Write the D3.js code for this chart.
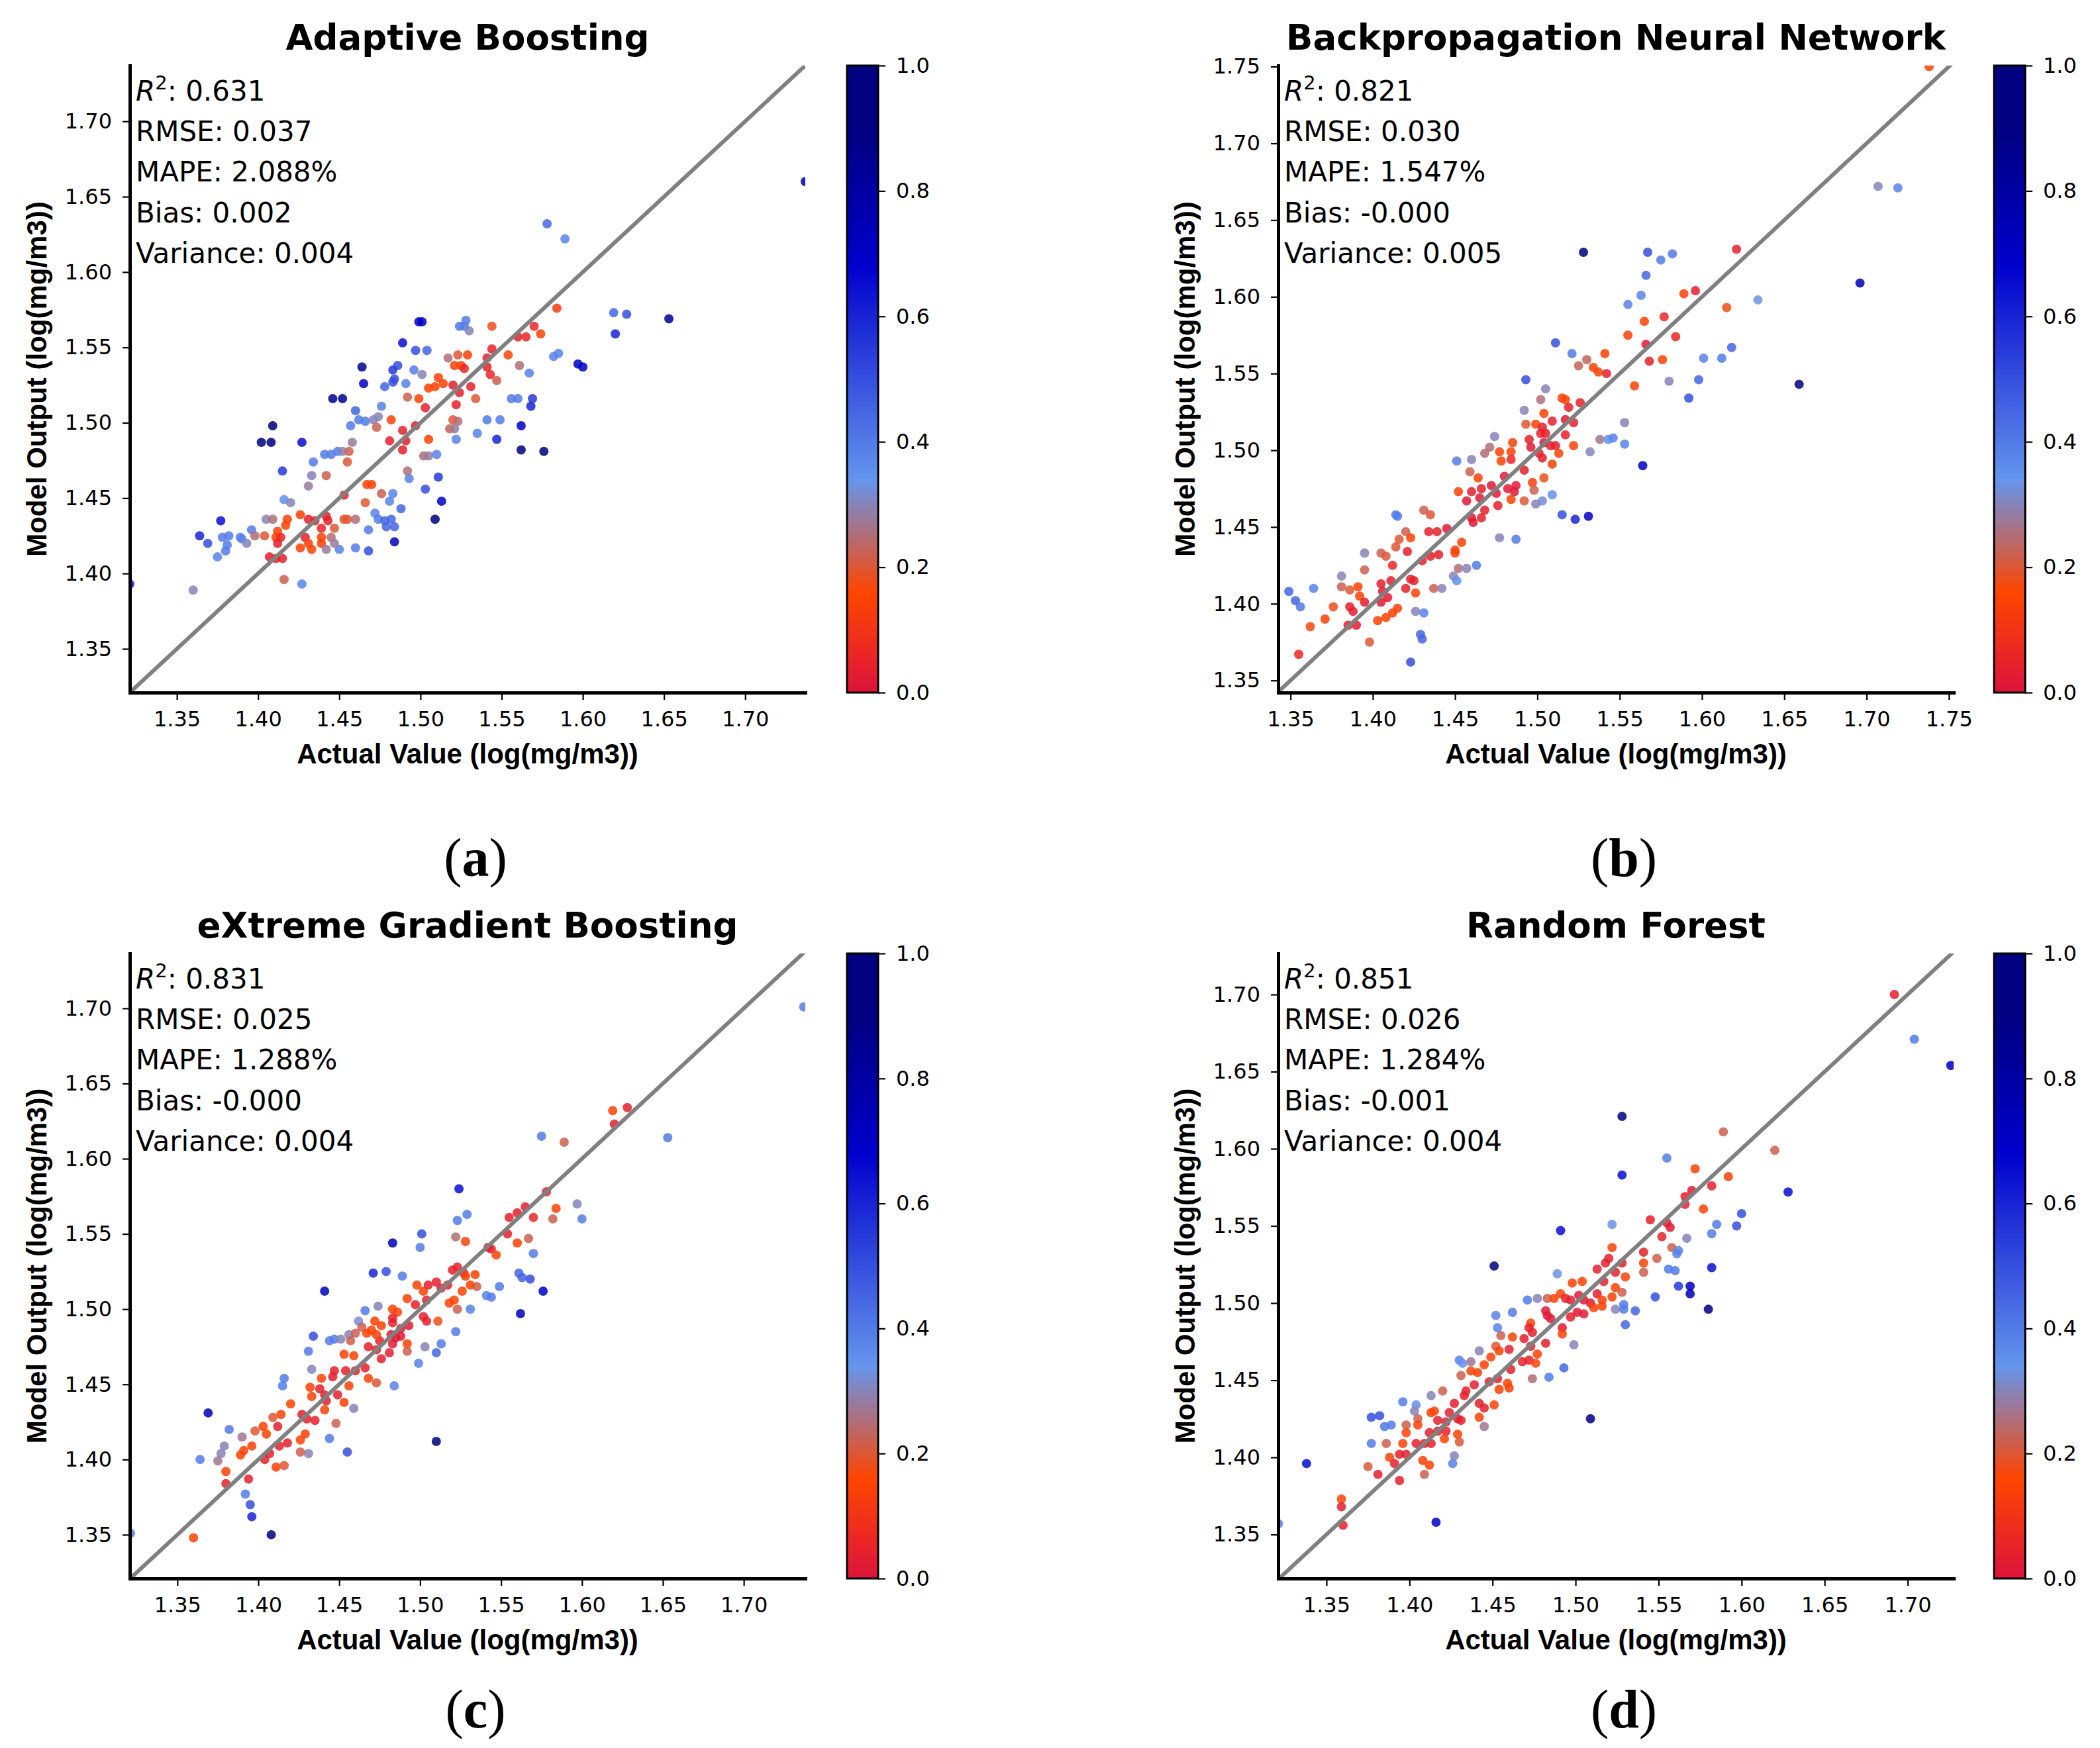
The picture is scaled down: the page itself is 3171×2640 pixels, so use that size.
<!DOCTYPE html>
<html><head><meta charset="utf-8">
<script src="https://cdn.jsdelivr.net/npm/d3@7"></script>
<style>body{margin:0;background:#fff}</style>
</head><body>
<svg id="chart" width="3171" height="2640" xmlns="http://www.w3.org/2000/svg"></svg>
<script>
// ---------- DATA ----------
// each point: [actual value, model output, colour value]
const adaPoints = [
[1.578,1.632,0.45],[1.589,1.622,0.38],[1.584,1.576,0.12],[1.619,1.573,0.45],[1.620,1.559,0.60],
[1.544,1.564,0.18],[1.570,1.564,0.06],[1.574,1.559,0.15],[1.560,1.557,0.04],[1.565,1.557,0.06],
[1.528,1.568,0.40],[1.524,1.564,0.40],[1.527,1.564,0.40],[1.530,1.561,0.30],[1.499,1.567,0.70],
[1.501,1.567,0.70],[1.489,1.553,0.65],[1.497,1.548,0.50],[1.504,1.548,0.45],[1.544,1.549,0.04],
[1.554,1.545,0.15],[1.517,1.543,0.25],[1.523,1.545,0.20],[1.529,1.545,0.15],[1.521,1.538,0.15],
[1.525,1.538,0.14],[1.527,1.536,0.06],[1.541,1.543,0.04],[1.541,1.537,0.04],[1.543,1.532,0.06],
[1.547,1.528,0.22],[1.561,1.538,0.25],[1.567,1.533,0.38],[1.582,1.544,0.38],[1.585,1.546,0.38],
[1.597,1.539,0.70],[1.600,1.537,0.70],[1.486,1.538,0.50],[1.483,1.535,0.55],[1.484,1.529,0.50],
[1.478,1.524,0.45],[1.483,1.527,0.50],[1.464,1.537,0.85],[1.465,1.526,0.70],[1.496,1.535,0.40],
[1.501,1.532,0.30],[1.491,1.526,0.38],[1.511,1.530,0.15],[1.514,1.526,0.15],[1.509,1.524,0.15],
[1.505,1.523,0.15],[1.520,1.525,0.04],[1.531,1.524,0.04],[1.524,1.520,0.04],[1.534,1.516,0.20],
[1.522,1.512,0.04],[1.499,1.516,0.15],[1.492,1.517,0.22],[1.503,1.510,0.04],[1.446,1.516,0.85],
[1.452,1.516,0.85],[1.460,1.508,0.45],[1.476,1.511,0.38],[1.462,1.502,0.40],[1.466,1.501,0.40],
[1.471,1.502,0.30],[1.474,1.504,0.30],[1.473,1.497,0.22],[1.457,1.498,0.40],[1.482,1.502,0.15],
[1.489,1.495,0.04],[1.497,1.498,0.04],[1.481,1.488,0.04],[1.491,1.488,0.04],[1.489,1.482,0.04],
[1.505,1.489,0.15],[1.520,1.502,0.20],[1.523,1.501,0.25],[1.518,1.496,0.22],[1.521,1.496,0.28],
[1.522,1.489,0.38],[1.541,1.502,0.40],[1.549,1.502,0.40],[1.535,1.493,0.38],[1.547,1.489,0.60],
[1.556,1.516,0.40],[1.560,1.516,0.40],[1.569,1.516,0.55],[1.568,1.511,0.60],[1.562,1.498,0.70],
[1.562,1.482,0.90],[1.576,1.481,0.90],[1.502,1.478,0.25],[1.505,1.478,0.28],[1.510,1.479,0.38],
[1.409,1.498,0.90],[1.402,1.487,0.90],[1.408,1.487,0.90],[1.427,1.487,0.65],[1.441,1.479,0.40],
[1.445,1.479,0.40],[1.449,1.481,0.40],[1.452,1.481,0.30],[1.456,1.481,0.22],[1.458,1.487,0.28],
[1.455,1.474,0.20],[1.434,1.474,0.40],[1.415,1.468,0.55],[1.433,1.465,0.30],[1.442,1.465,0.22],
[1.431,1.458,0.28],[1.467,1.459,0.15],[1.470,1.459,0.15],[1.492,1.468,0.25],[1.493,1.463,0.38],
[1.511,1.464,0.55],[1.503,1.456,0.50],[1.476,1.453,0.22],[1.483,1.453,0.38],[1.481,1.448,0.38],
[1.466,1.447,0.20],[1.488,1.443,0.45],[1.513,1.448,0.70],[1.453,1.452,0.04],[1.416,1.449,0.35],
[1.420,1.447,0.30],[1.472,1.440,0.38],[1.474,1.436,0.40],[1.478,1.435,0.45],[1.482,1.436,0.45],
[1.479,1.431,0.45],[1.484,1.431,0.45],[1.468,1.429,0.40],[1.509,1.436,0.90],[1.484,1.421,0.75],
[1.460,1.417,0.40],[1.468,1.415,0.50],[1.450,1.416,0.38],[1.426,1.439,0.15],[1.431,1.436,0.04],
[1.435,1.435,0.04],[1.442,1.438,0.04],[1.443,1.435,0.04],[1.439,1.430,0.06],[1.439,1.424,0.15],
[1.447,1.430,0.20],[1.445,1.424,0.25],[1.439,1.420,0.15],[1.447,1.420,0.28],[1.442,1.416,0.28],
[1.433,1.416,0.15],[1.426,1.417,0.15],[1.429,1.424,0.04],[1.431,1.420,0.15],[1.453,1.436,0.18],
[1.455,1.436,0.20],[1.460,1.436,0.25],[1.418,1.436,0.15],[1.417,1.432,0.15],[1.412,1.428,0.15],
[1.411,1.424,0.15],[1.414,1.424,0.06],[1.412,1.420,0.04],[1.407,1.411,0.04],[1.415,1.410,0.04],
[1.411,1.410,0.04],[1.404,1.425,0.20],[1.405,1.436,0.30],[1.409,1.436,0.25],[1.377,1.435,0.65],
[1.364,1.425,0.60],[1.369,1.420,0.50],[1.375,1.411,0.38],[1.380,1.415,0.40],[1.381,1.419,0.40],
[1.378,1.424,0.40],[1.382,1.425,0.40],[1.389,1.424,0.38],[1.390,1.423,0.38],[1.396,1.429,0.40],
[1.398,1.425,0.25],[1.393,1.420,0.30],[1.416,1.396,0.22],[1.427,1.393,0.38],[1.360,1.389,0.30],
[1.627,1.572,0.50],[1.653,1.569,0.85],[1.737,1.660,0.75],[1.321,1.393,0.60]
];
const bpnnPoints = [
[1.563,1.601,0.38],[1.555,1.595,0.38],[1.589,1.602,0.15],[1.596,1.604,0.04],[1.565,1.584,0.15],
[1.577,1.587,0.06],[1.555,1.575,0.15],[1.584,1.574,0.06],[1.566,1.569,0.02],[1.511,1.570,0.50],
[1.521,1.563,0.40],[1.541,1.563,0.15],[1.530,1.559,0.23],[1.525,1.555,0.23],[1.534,1.554,0.15],
[1.537,1.551,0.15],[1.542,1.550,0.04],[1.568,1.558,0.04],[1.576,1.559,0.15],[1.601,1.560,0.38],
[1.598,1.546,0.45],[1.580,1.545,0.30],[1.559,1.542,0.15],[1.592,1.534,0.50],[1.493,1.546,0.50],
[1.505,1.540,0.30],[1.502,1.533,0.25],[1.515,1.534,0.15],[1.517,1.533,0.15],[1.519,1.528,0.04],
[1.526,1.531,0.04],[1.492,1.526,0.30],[1.504,1.524,0.15],[1.509,1.519,0.04],[1.517,1.520,0.02],
[1.522,1.518,0.04],[1.493,1.517,0.20],[1.499,1.517,0.15],[1.503,1.515,0.04],[1.502,1.511,0.04],
[1.505,1.511,0.04],[1.517,1.510,0.04],[1.495,1.507,0.04],[1.504,1.505,0.02],[1.508,1.503,0.04],
[1.511,1.503,0.04],[1.522,1.503,0.15],[1.496,1.502,0.02],[1.513,1.498,0.15],[1.501,1.498,0.04],
[1.503,1.495,0.04],[1.509,1.491,0.15],[1.485,1.505,0.15],[1.474,1.509,0.30],[1.471,1.502,0.25],
[1.468,1.498,0.25],[1.477,1.499,0.15],[1.484,1.499,0.15],[1.484,1.494,0.06],[1.478,1.493,0.15],
[1.460,1.494,0.30],[1.451,1.493,0.40],[1.459,1.486,0.22],[1.464,1.482,0.15],[1.492,1.487,0.04],
[1.480,1.483,0.02],[1.497,1.479,0.15],[1.504,1.482,0.18],[1.498,1.474,0.22],[1.492,1.467,0.20],
[1.499,1.465,0.30],[1.503,1.467,0.32],[1.509,1.471,0.35],[1.564,1.490,0.70],[1.553,1.518,0.30],
[1.538,1.507,0.27],[1.543,1.507,0.35],[1.546,1.508,0.38],[1.553,1.504,0.38],[1.532,1.499,0.30],
[1.515,1.458,0.50],[1.523,1.455,0.60],[1.531,1.457,0.70],[1.477,1.443,0.30],[1.487,1.442,0.40],
[1.463,1.425,0.40],[1.452,1.423,0.25],[1.457,1.423,0.30],[1.449,1.418,0.30],[1.451,1.415,0.35],
[1.437,1.410,0.22],[1.442,1.410,0.30],[1.426,1.395,0.30],[1.431,1.394,0.38],[1.429,1.380,0.45],
[1.430,1.377,0.45],[1.423,1.362,0.50],[1.452,1.473,0.15],[1.460,1.473,0.04],[1.466,1.475,0.04],
[1.472,1.477,0.02],[1.465,1.469,0.02],[1.457,1.467,0.02],[1.475,1.472,0.02],[1.482,1.475,0.02],
[1.486,1.473,0.02],[1.487,1.477,0.02],[1.484,1.468,0.15],[1.476,1.464,0.04],[1.468,1.461,0.04],
[1.460,1.456,0.02],[1.461,1.453,0.02],[1.466,1.456,0.04],[1.431,1.461,0.22],[1.435,1.458,0.20],
[1.434,1.447,0.04],[1.439,1.447,0.04],[1.445,1.449,0.02],[1.420,1.447,0.22],[1.416,1.442,0.20],
[1.423,1.443,0.15],[1.414,1.437,0.20],[1.421,1.434,0.04],[1.405,1.433,0.22],[1.408,1.431,0.20],
[1.395,1.433,0.30],[1.412,1.425,0.06],[1.395,1.422,0.22],[1.430,1.428,0.04],[1.435,1.431,0.04],
[1.440,1.432,0.04],[1.454,1.440,0.15],[1.450,1.435,0.15],[1.450,1.433,0.15],[1.381,1.418,0.30],
[1.364,1.410,0.38],[1.349,1.408,0.45],[1.353,1.402,0.45],[1.356,1.398,0.40],[1.381,1.411,0.22],
[1.386,1.409,0.20],[1.391,1.411,0.15],[1.392,1.405,0.15],[1.395,1.401,0.04],[1.376,1.398,0.18],
[1.386,1.398,0.04],[1.388,1.395,0.04],[1.371,1.390,0.15],[1.362,1.385,0.17],[1.385,1.386,0.04],
[1.390,1.386,0.04],[1.405,1.413,0.04],[1.411,1.415,0.04],[1.406,1.408,0.02],[1.409,1.404,0.02],
[1.405,1.401,0.02],[1.423,1.416,0.04],[1.425,1.415,0.04],[1.420,1.410,0.04],[1.426,1.407,0.15],
[1.415,1.397,0.15],[1.412,1.394,0.15],[1.408,1.391,0.15],[1.403,1.389,0.15],[1.398,1.375,0.20],
[1.355,1.367,0.06],[1.414,1.458,0.40],[1.415,1.457,0.40],[1.738,1.750,0.15],[1.707,1.672,0.30],
[1.719,1.671,0.38],[1.696,1.609,0.75],[1.659,1.543,0.90],[1.634,1.598,0.33],[1.621,1.631,0.04],
[1.528,1.629,0.90],[1.567,1.629,0.50],[1.582,1.628,0.40],[1.575,1.624,0.40],[1.566,1.614,0.45],
[1.615,1.593,0.18],[1.612,1.560,0.40],[1.618,1.567,0.45]
];
const xgbPoints = [
[1.619,1.632,0.15],[1.628,1.634,0.04],[1.620,1.623,0.04],[1.575,1.615,0.40],[1.589,1.611,0.22],
[1.578,1.578,0.04],[1.597,1.570,0.30],[1.584,1.567,0.15],[1.582,1.560,0.22],[1.600,1.560,0.40],
[1.565,1.568,0.04],[1.560,1.564,0.04],[1.555,1.561,0.04],[1.570,1.561,0.06],[1.554,1.550,0.04],
[1.567,1.547,0.22],[1.560,1.544,0.15],[1.570,1.537,0.40],[1.524,1.580,0.65],[1.529,1.563,0.40],
[1.523,1.559,0.40],[1.501,1.550,0.50],[1.500,1.541,0.40],[1.483,1.544,0.75],[1.522,1.548,0.25],
[1.528,1.545,0.15],[1.544,1.540,0.04],[1.547,1.536,0.15],[1.542,1.541,0.04],[1.471,1.524,0.60],
[1.479,1.525,0.50],[1.489,1.522,0.40],[1.441,1.512,0.75],[1.520,1.526,0.04],[1.523,1.528,0.04],
[1.527,1.524,0.04],[1.534,1.523,0.15],[1.528,1.522,0.15],[1.535,1.515,0.22],[1.531,1.516,0.15],
[1.549,1.515,0.40],[1.561,1.524,0.45],[1.563,1.521,0.45],[1.568,1.520,0.50],[1.576,1.512,0.70],
[1.541,1.509,0.38],[1.544,1.508,0.40],[1.531,1.500,0.38],[1.562,1.497,0.75],[1.523,1.500,0.22],
[1.522,1.485,0.40],[1.513,1.477,0.40],[1.510,1.471,0.45],[1.503,1.475,0.30],[1.499,1.464,0.38],
[1.484,1.449,0.38],[1.510,1.412,0.90],[1.466,1.499,0.40],[1.474,1.502,0.30],[1.462,1.492,0.32],
[1.434,1.482,0.50],[1.431,1.472,0.40],[1.444,1.479,0.40],[1.447,1.480,0.40],[1.451,1.480,0.30],
[1.456,1.483,0.30],[1.457,1.479,0.22],[1.460,1.484,0.22],[1.464,1.488,0.22],[1.433,1.460,0.30],
[1.416,1.454,0.40],[1.415,1.449,0.40],[1.459,1.434,0.30],[1.448,1.424,0.22],[1.444,1.414,0.40],
[1.455,1.405,0.50],[1.431,1.404,0.30],[1.426,1.405,0.22],[1.382,1.420,0.40],[1.369,1.431,0.75],
[1.390,1.415,0.27],[1.379,1.409,0.30],[1.377,1.404,0.30],[1.375,1.399,0.27],[1.364,1.400,0.40],
[1.392,1.377,0.40],[1.395,1.370,0.50],[1.396,1.362,0.60],[1.408,1.350,0.90],[1.360,1.348,0.15],
[1.380,1.392,0.15],[1.380,1.384,0.04],[1.394,1.387,0.04],[1.389,1.403,0.15],[1.391,1.406,0.15],
[1.396,1.409,0.15],[1.398,1.419,0.20],[1.403,1.422,0.15],[1.405,1.417,0.15],[1.404,1.400,0.04],
[1.407,1.404,0.04],[1.409,1.428,0.20],[1.414,1.430,0.15],[1.420,1.437,0.15],[1.412,1.422,0.04],
[1.413,1.409,0.04],[1.418,1.411,0.04],[1.411,1.395,0.15],[1.416,1.396,0.20],[1.426,1.413,0.15],
[1.429,1.417,0.15],[1.427,1.430,0.04],[1.430,1.427,0.04],[1.435,1.426,0.04],[1.441,1.433,0.15],
[1.433,1.442,0.15],[1.432,1.448,0.15],[1.439,1.454,0.15],[1.438,1.447,0.04],[1.441,1.443,0.04],
[1.442,1.439,0.04],[1.446,1.455,0.04],[1.449,1.443,0.04],[1.453,1.438,0.15],[1.456,1.449,0.15],
[1.447,1.459,0.04],[1.454,1.459,0.04],[1.460,1.459,0.04],[1.466,1.461,0.04],[1.453,1.470,0.15],
[1.459,1.469,0.15],[1.468,1.454,0.15],[1.473,1.451,0.20],[1.468,1.475,0.04],[1.473,1.473,0.04],
[1.475,1.479,0.04],[1.481,1.471,0.04],[1.476,1.467,0.04],[1.467,1.484,0.15],[1.470,1.486,0.15],
[1.473,1.483,0.15],[1.472,1.492,0.15],[1.476,1.489,0.15],[1.483,1.500,0.15],[1.486,1.498,0.15],
[1.483,1.494,0.04],[1.483,1.491,0.04],[1.482,1.483,0.02],[1.485,1.481,0.02],[1.483,1.477,0.02],
[1.488,1.487,0.02],[1.493,1.489,0.02],[1.488,1.482,0.02],[1.492,1.477,0.15],[1.492,1.472,0.22],
[1.492,1.507,0.15],[1.497,1.503,0.04],[1.502,1.495,0.04],[1.504,1.492,0.04],[1.511,1.492,0.18],
[1.498,1.516,0.15],[1.502,1.512,0.15],[1.505,1.516,0.04],[1.510,1.518,0.04],[1.513,1.514,0.04],
[1.517,1.516,0.04],[1.504,1.506,0.04],[1.518,1.504,0.15],[1.521,1.506,0.15],[1.526,1.512,0.15],
[1.737,1.701,0.40],[1.653,1.614,0.40],[1.321,1.351,0.40]
];
const rfPoints = [
[1.528,1.621,0.90],[1.528,1.583,0.65],[1.555,1.594,0.40],[1.589,1.611,0.22],[1.620,1.599,0.22],
[1.572,1.587,0.15],[1.592,1.582,0.15],[1.582,1.576,0.04],[1.570,1.573,0.02],[1.566,1.569,0.04],
[1.566,1.564,0.04],[1.628,1.572,0.65],[1.577,1.561,0.15],[1.600,1.558,0.50],[1.585,1.551,0.40],
[1.597,1.550,0.50],[1.582,1.545,0.40],[1.545,1.554,0.04],[1.555,1.552,0.02],[1.557,1.549,0.02],
[1.552,1.543,0.04],[1.567,1.542,0.30],[1.522,1.551,0.33],[1.491,1.547,0.65],[1.451,1.524,0.90],
[1.558,1.536,0.22],[1.562,1.534,0.38],[1.561,1.532,0.38],[1.541,1.533,0.04],[1.549,1.529,0.22],
[1.541,1.526,0.15],[1.541,1.520,0.22],[1.556,1.522,0.40],[1.560,1.521,0.40],[1.582,1.523,0.65],
[1.562,1.511,0.55],[1.569,1.511,0.70],[1.569,1.506,0.75],[1.548,1.504,0.50],[1.580,1.496,0.90],
[1.522,1.536,0.15],[1.520,1.529,0.04],[1.518,1.526,0.04],[1.513,1.522,0.04],[1.528,1.526,0.04],
[1.524,1.520,0.04],[1.530,1.517,0.15],[1.517,1.514,0.04],[1.524,1.510,0.15],[1.528,1.507,0.22],
[1.522,1.504,0.15],[1.513,1.506,0.04],[1.516,1.502,0.15],[1.516,1.498,0.15],[1.524,1.496,0.30],
[1.529,1.499,0.40],[1.529,1.496,0.40],[1.536,1.495,0.45],[1.530,1.486,0.45],[1.489,1.519,0.33],
[1.498,1.513,0.15],[1.504,1.514,0.15],[1.491,1.506,0.15],[1.494,1.503,0.04],[1.497,1.502,0.04],
[1.502,1.505,0.02],[1.505,1.502,0.02],[1.509,1.500,0.02],[1.511,1.497,0.15],[1.501,1.494,0.02],
[1.505,1.493,0.02],[1.497,1.491,0.04],[1.471,1.502,0.40],[1.477,1.503,0.30],[1.483,1.503,0.22],
[1.487,1.503,0.15],[1.462,1.494,0.40],[1.452,1.492,0.38],[1.453,1.484,0.38],[1.482,1.495,0.02],
[1.483,1.492,0.02],[1.485,1.490,0.02],[1.492,1.484,0.02],[1.492,1.480,0.15],[1.473,1.487,0.15],
[1.472,1.484,0.04],[1.474,1.481,0.04],[1.482,1.474,0.04],[1.469,1.477,0.04],[1.473,1.472,0.04],
[1.462,1.478,0.15],[1.455,1.479,0.22],[1.499,1.473,0.30],[1.452,1.472,0.20],[1.454,1.469,0.15],
[1.460,1.470,0.04],[1.442,1.469,0.30],[1.449,1.465,0.15],[1.430,1.463,0.38],[1.432,1.461,0.35],
[1.437,1.462,0.27],[1.445,1.460,0.15],[1.437,1.456,0.15],[1.441,1.455,0.15],[1.431,1.453,0.22],
[1.461,1.457,0.04],[1.468,1.462,0.04],[1.472,1.463,0.04],[1.476,1.461,0.15],[1.477,1.467,0.15],
[1.474,1.451,0.25],[1.484,1.452,0.40],[1.493,1.458,0.45],[1.453,1.451,0.04],[1.448,1.449,0.04],
[1.439,1.447,0.04],[1.434,1.443,0.04],[1.433,1.440,0.04],[1.459,1.448,0.15],[1.460,1.445,0.15],
[1.454,1.444,0.15],[1.427,1.435,0.04],[1.442,1.435,0.04],[1.445,1.432,0.04],[1.451,1.434,0.15],
[1.442,1.426,0.15],[1.420,1.443,0.22],[1.413,1.440,0.30],[1.404,1.434,0.35],[1.403,1.430,0.30],
[1.396,1.436,0.40],[1.377,1.426,0.50],[1.382,1.427,0.50],[1.385,1.420,0.40],[1.389,1.421,0.40],
[1.398,1.421,0.22],[1.405,1.425,0.22],[1.405,1.421,0.15],[1.413,1.429,0.15],[1.415,1.430,0.15],
[1.417,1.424,0.04],[1.424,1.429,0.04],[1.429,1.425,0.04],[1.431,1.424,0.04],[1.422,1.423,0.04],
[1.412,1.416,0.04],[1.417,1.417,0.04],[1.398,1.416,0.15],[1.377,1.409,0.40],[1.386,1.409,0.22],
[1.396,1.409,0.15],[1.404,1.409,0.04],[1.409,1.409,0.04],[1.413,1.409,0.04],[1.422,1.417,0.04],
[1.421,1.412,0.15],[1.429,1.415,0.15],[1.430,1.410,0.20],[1.394,1.402,0.04],[1.398,1.402,0.04],
[1.388,1.400,0.15],[1.391,1.396,0.04],[1.408,1.398,0.15],[1.412,1.395,0.15],[1.427,1.401,0.30],
[1.426,1.396,0.38],[1.375,1.394,0.20],[1.381,1.389,0.04],[1.409,1.389,0.22],[1.394,1.385,0.04],
[1.445,1.420,0.27],[1.338,1.396,0.65],[1.359,1.373,0.15],[1.359,1.368,0.04],[1.360,1.356,0.04],
[1.416,1.358,0.70],[1.509,1.425,0.90],[1.692,1.700,0.04],[1.704,1.671,0.40],[1.726,1.654,0.70],
[1.321,1.357,0.40]
];

const modelTitles = ["Adaptive Boosting","Backpropagation Neural Network","eXtreme Gradient Boosting","Random Forest"];
const panelLetters = ["a","b","c","d"];
const statNames = ["RMSE","MAPE","Bias","Variance"];
const adaStats  = ["0.631","0.037","2.088%","0.002","0.004"];
const bpnnStats = ["0.821","0.030","1.547%","-0.000","0.005"];
const xgbStats  = ["0.831","0.025","1.288%","-0.000","0.004"];
const rfStats   = ["0.851","0.026","1.284%","-0.001","0.004"];
const ticksTo170 = [1.35,1.40,1.45,1.50,1.55,1.60,1.65,1.70];
const ticksTo175 = [1.35,1.40,1.45,1.50,1.55,1.60,1.65,1.70,1.75];
const colorbarTicks = [0.0,0.2,0.4,0.6,0.8,1.0];
const cmapStops  = [0, 0.16, 0.34, 0.68, 0.9, 1];
const cmapColors = ["#dc143c","#ff4500","#6495ed","#0000cd","#000080","#000080"];
const xLabel = "Actual Value (log(mg/m3))";
const yLabel = "Model Output (log(mg/m3))";

// ---------- LAYOUT ----------
const panels = [
  {data:adaPoints,  stats:adaStats,  xt:ticksTo170, yt:ticksTo170, xDom:[1.321,1.737],   yDom:[1.321,1.737],   x0:196,  x1:1216, y0:99,   y1:1046, cbx:1279, capY:1323},
  {data:bpnnPoints, stats:bpnnStats, xt:ticksTo175, yt:ticksTo175, xDom:[1.3425,1.7529], yDom:[1.3421,1.7507], x0:1930, x1:2950, y0:99,   y1:1046, cbx:3011, capY:1323},
  {data:xgbPoints,  stats:xgbStats,  xt:ticksTo170, yt:ticksTo170, xDom:[1.3206,1.738],  yDom:[1.3209,1.7365], x0:196,  x1:1216, y0:1440, y1:2384, cbx:1279, capY:2609},
  {data:rfPoints,   stats:rfStats,   xt:ticksTo170, yt:ticksTo170, xDom:[1.3209,1.7277], yDom:[1.3215,1.7266], x0:1930, x1:2950, y0:1440, y1:2384, cbx:3011, capY:2609}
];

const svg = d3.select("#chart");
svg.append("rect").attr("width",3171).attr("height",2640).attr("fill","#fff");
const color = d3.scaleLinear().domain(cmapStops).range(cmapColors).clamp(true);
const defs = svg.append("defs");
const grad = defs.append("linearGradient").attr("id","cmap")
  .attr("x1",0).attr("y1",1).attr("x2",0).attr("y2",0);
d3.range(101).map(i=>i/100).forEach(t=>grad.append("stop").attr("offset",t).attr("stop-color",color(t)));

const tickFont = "'DejaVu Sans', sans-serif";
const fmt = d3.format(".2f");

panels.forEach((p,i)=>{
  const g = svg.append("g");
  const x = d3.scaleLinear().domain(p.xDom).range([p.x0,p.x1]);
  const y = d3.scaleLinear().domain(p.yDom).range([p.y1,p.y0]);
  const cx = (p.x0+p.x1)/2;

  defs.append("clipPath").attr("id","clip"+i).append("rect")
    .attr("x",p.x0).attr("y",p.y0).attr("width",p.x1-p.x0).attr("height",p.y1-p.y0);

  // points
  g.append("g").attr("clip-path",`url(#clip${i})`)
    .selectAll("circle").data(p.data).join("circle")
    .attr("cx",d=>x(d[0])).attr("cy",d=>y(d[1])).attr("r",7)
    .attr("fill",d=>color(d[2])).attr("fill-opacity",0.85);

  // 1:1 line
  const lo = Math.min(p.xDom[0],p.yDom[0]), hi = Math.max(p.xDom[1],p.yDom[1]);
  g.append("line").attr("clip-path",`url(#clip${i})`)
    .attr("x1",x(lo)).attr("y1",y(lo)).attr("x2",x(hi)).attr("y2",y(hi))
    .attr("stroke","#808080").attr("stroke-width",6);

  // axes
  const ax = g.append("g").attr("transform",`translate(0,${p.y1})`)
    .call(d3.axisBottom(x).tickValues(p.xt).tickFormat(fmt).tickSize(11).tickSizeOuter(0).tickPadding(17));
  const ay = g.append("g").attr("transform",`translate(${p.x0},0)`)
    .call(d3.axisLeft(y).tickValues(p.yt).tickFormat(fmt).tickSize(11).tickSizeOuter(0).tickPadding(16));
  [ax,ay].forEach(a=>{
    a.select(".domain").attr("stroke","#000").attr("stroke-width",5).attr("stroke-linecap","square");
    a.selectAll(".tick line").attr("stroke","#000").attr("stroke-width",2.2);
    a.selectAll(".tick text").attr("font-family",tickFont).attr("font-size",32).attr("fill","#000");
  });

  // axis labels
  g.append("text").attr("x",cx).attr("y",p.y1+107).attr("text-anchor","middle")
    .attr("font-family","'Liberation Sans', Arial, sans-serif").attr("font-weight","bold").attr("font-size",42)
    .text(xLabel);
  g.append("text").attr("transform",`translate(${p.x0-126},${(p.y0+p.y1)/2}) rotate(-90)`)
    .attr("text-anchor","middle")
    .attr("font-family","'Liberation Sans', Arial, sans-serif").attr("font-weight","bold").attr("font-size",42)
    .text(yLabel);

  // title
  g.append("text").attr("x",cx).attr("y",p.y0-24).attr("text-anchor","middle")
    .attr("font-family","'DejaVu Sans', sans-serif").attr("font-weight","bold").attr("font-size",53)
    .text(modelTitles[i]);

  // stats
  const tx = p.x0+9, ty = p.y0+53, step = 61.2;
  const t0 = g.append("text").attr("x",tx).attr("y",ty)
    .attr("font-family","'DejaVu Sans', sans-serif").attr("font-size",42).attr("fill","#000");
  t0.append("tspan").attr("font-style","italic").text("R");
  t0.append("tspan").attr("font-size",29).attr("dy",-17).text("2");
  t0.append("tspan").attr("dy",17).text(": "+p.stats[0]);
  statNames.forEach((n,k)=>{
    g.append("text").attr("x",tx).attr("y",ty+step*(k+1))
      .attr("font-family","'DejaVu Sans', sans-serif").attr("font-size",42).attr("fill","#000")
      .text(n+": "+p.stats[k+1]);
  });

  // colorbar
  const cw = 47;
  const cs = d3.scaleLinear().domain([0,1]).range([p.y1,p.y0]);
  g.append("rect").attr("x",p.cbx).attr("y",p.y0).attr("width",cw).attr("height",p.y1-p.y0)
    .attr("fill","url(#cmap)");
  const ac = g.append("g").attr("transform",`translate(${p.cbx+cw},0)`)
    .call(d3.axisRight(cs).tickValues(colorbarTicks).tickFormat(d3.format(".1f")).tickSize(11).tickSizeOuter(0).tickPadding(16));
  ac.select(".domain").remove();
  ac.selectAll(".tick line").attr("stroke","#000").attr("stroke-width",2.2);
  ac.selectAll(".tick text").attr("font-family",tickFont).attr("font-size",32).attr("fill","#000");
  g.append("rect").attr("x",p.cbx).attr("y",p.y0).attr("width",cw).attr("height",p.y1-p.y0)
    .attr("fill","none").attr("stroke","#000").attr("stroke-width",3);

  // sub caption
  const sc = g.append("text").attr("x",cx+12).attr("y",p.capY).attr("text-anchor","middle")
    .attr("font-family","'Liberation Serif', 'Times New Roman', serif").attr("font-size",82).attr("fill","#000");
  sc.append("tspan").text("(");
  sc.append("tspan").attr("font-weight","bold").text(panelLetters[i]);
  sc.append("tspan").text(")");
});
</script>
</body></html>
